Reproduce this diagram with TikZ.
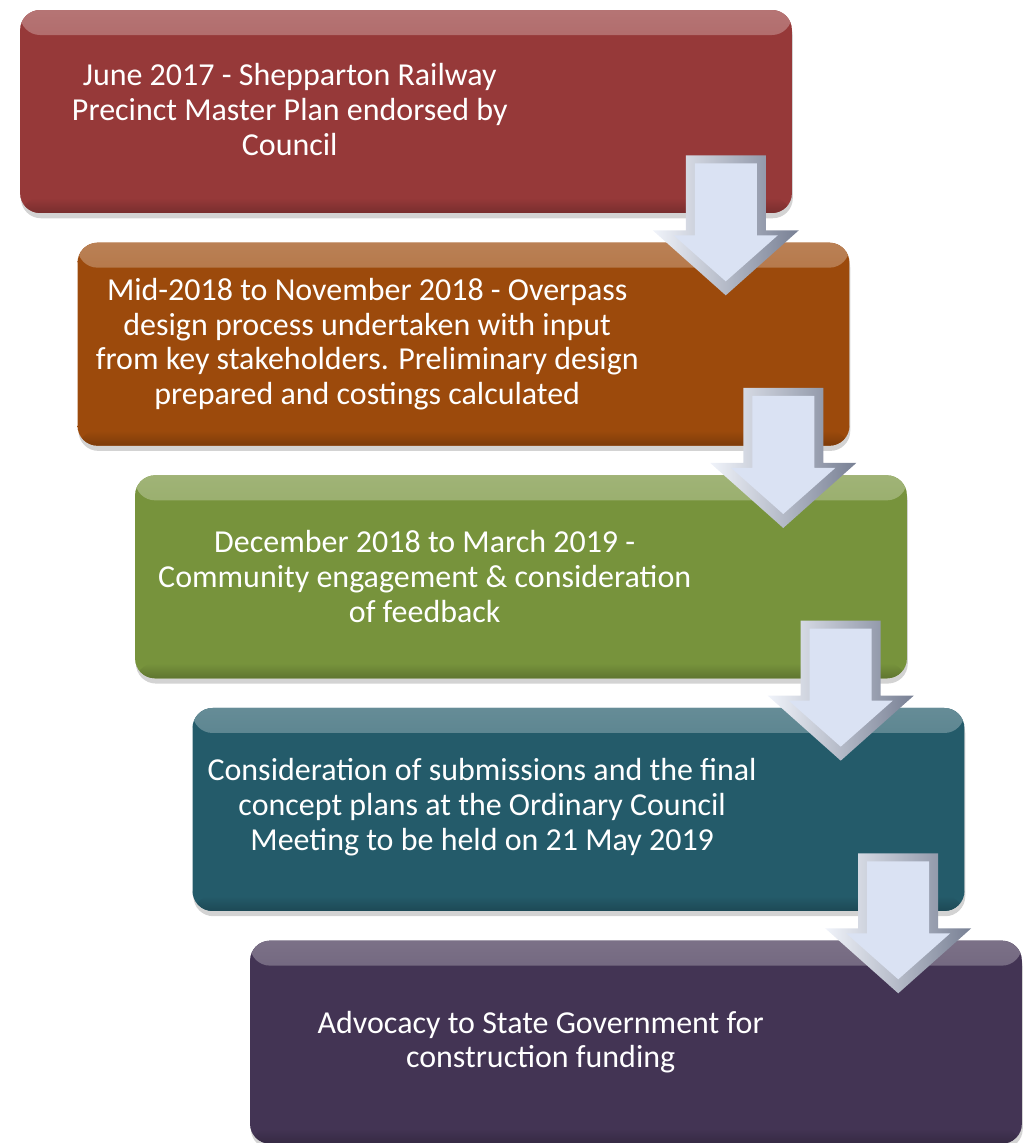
\documentclass[tikz,border=0pt]{standalone}
\usepackage{fontspec}
\setmainfont{Carlito}
\usetikzlibrary{positioning,calc,shadows}
\definecolor{stagered}{RGB}{150,57,57}
\definecolor{stageorange}{RGB}{156,74,12}
\definecolor{stagegreen}{RGB}{119,147,60}
\definecolor{stageteal}{RGB}{36,91,106}
\definecolor{stagepurple}{RGB}{67,52,84}
\definecolor{arrowface}{RGB}{218,226,243}
\definecolor{arrowedge}{RGB}{120,128,148}
\tikzset{
  stage/.style={rectangle, rounded corners=0.4cm, minimum width=15.44cm,
    minimum height=4.06cm, fill=#1,
    drop shadow={opacity=0.35, shadow xshift=0.5pt, shadow yshift=-3pt},
    path picture={
      \shade[top color=#1!70!white, bottom color=#1]
        (path picture bounding box.north west) rectangle
        ([yshift=-0.5cm]path picture bounding box.north east);
      \shade[top color=#1, bottom color=#1!80!black]
        ([yshift=0.3cm]path picture bounding box.south west) rectangle
        (path picture bounding box.south east);}},
  stagetext/.style={text=white, align=center,
    font=\fontsize{18.2}{19.9}\selectfont},
  downarrow/.pic={
    \shade[left color=arrowface!40!white, middle color=arrowface, right color=arrowedge]
      (0,0) -- (-73,-65) -- (-40,-65) -- (-40,-140) -- (40,-140) -- (40,-65) -- (73,-65) -- cycle;
    \fill[arrowface]
      (0,-14) -- (-52,-60) -- (-31,-60) -- (-31,-132) -- (31,-132) -- (31,-60) -- (52,-60) -- cycle;
  }
}
\begin{document}
\begin{tikzpicture}[x=0.02cm, y=-0.02cm]
    \useasboundingbox (0,0) rectangle (1027,1143);
    % Place boxes
    \node [stage=stagered] (b1) at (406,111.5) {};
    \node [stage=stageorange, below=0.58cm of b1, xshift=1.15cm] (b2) {};
    \node [stage=stagegreen, below=0.58cm of b2, xshift=1.15cm] (b3) {};
    \node [stage=stageteal, below=0.58cm of b3, xshift=1.15cm] (b4) {};
    \node [stage=stagepurple, below=0.58cm of b4, xshift=1.15cm] (b5) {};
    % Texts
    \node [stagetext] (t1) at ($(b1.west)+(270,-2)$) {June 2017 - Shepparton Railway\\Precinct Master Plan endorsed by\\Council};
    \node [stagetext] (t2) at ($(b2.west)+(290,0)$) {Mid-2018 to November 2018 - Overpass\\design process undertaken with input\\from key stakeholders. Preliminary design\\prepared and costings calculated};
    \node [stagetext] (t3) at ($(b3.west)+(290,0)$) {December 2018 to March 2019 -\\Community engagement \& consideration\\of feedback};
    \node [stagetext] (t4) at ($(b4.west)+(290,-2)$) {Consideration of submissions and the final\\concept plans at the Ordinary Council\\Meeting to be held on 21 May 2019};
    \node [stagetext] (t5) at ($(b5.west)+(291,0)$) {Advocacy to State Government for\\construction funding};
    % Draw arrows
    \pic at ($(b2.north east)+(-124,53)$) {downarrow};
    \pic at ($(b3.north east)+(-124,53)$) {downarrow};
    \pic at ($(b4.north east)+(-124,53)$) {downarrow};
    \pic at ($(b5.north east)+(-124,53)$) {downarrow};
\end{tikzpicture}
\end{document}
